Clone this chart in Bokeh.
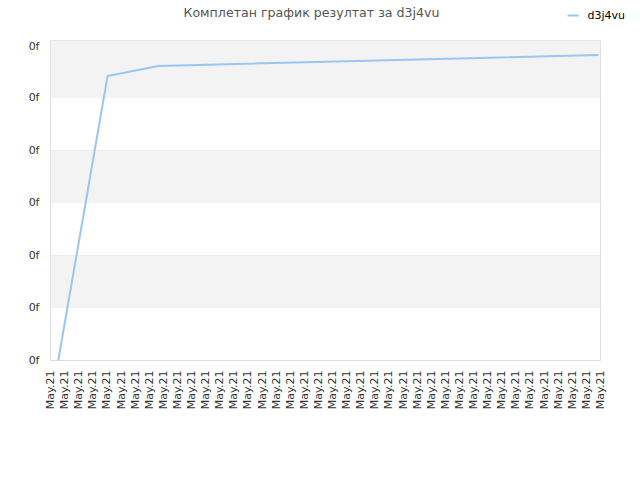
from bokeh.plotting import figure
from bokeh.embed import file_html
from bokeh.resources import INLINE
from bokeh.layouts import column
from bokeh.core.properties import value
from bokeh.models import FixedTicker, Range1d, BoxAnnotation
import math

# ---- data ----
series_name = "d3j4vu"
title_text = "Комплетан график резултат за d3j4vu"
x_tick_count = 40
x_tick_label = "May.21"
y_ticks = [0, 1, 2, 3, 4, 5, 6]
y_tick_label = "0f"
xs = [0.55, 4.05, 7.65, 38.85]
ys = [0.0, 5.42, 5.61, 5.82]

FONT = "DejaVu Sans"
LINE_COLOR = "#99c6f3"

# ---- header strip: title and legend ----
head = figure(width=640, height=39, output_backend="svg", toolbar_location=None,
              x_range=Range1d(0, 640), y_range=Range1d(39, 0),
              x_axis_type=None, y_axis_type=None, min_border=0)
if "frame_align" in head.properties():
    head.frame_align = False
head.title = None
head.outline_line_color = None
head.background_fill_color = "white"
head.border_fill_color = "white"
head.xgrid.visible = False
head.ygrid.visible = False
head.text(x=[311], y=[12], text=[title_text], text_align="center", text_baseline="middle",
          text_font=value(FONT), text_font_size="12.6px", text_color="#555555")
head.line(x=[567, 578], y=[15, 15], line_color=LINE_COLOR, line_width=2)
head.text(x=[587], y=[15], text=[series_name], text_align="left", text_baseline="middle",
          text_font=value(FONT), text_font_size="11px", text_color="#000000")

# ---- main chart ----
p = figure(width=640, height=441, output_backend="svg", toolbar_location=None,
           x_range=Range1d(0, x_tick_count - 1), y_range=Range1d(0, 6.095),
           min_border_left=50, min_border_right=40, min_border_top=1, min_border_bottom=120)
if "frame_align" in p.properties():
    p.frame_align = False
p.title = None
p.outline_line_color = "#dddddd"
p.background_fill_color = "white"
p.border_fill_color = "white"

# alternating bands
for lo, hi in [(1, 2), (3, 4), (5, 6.2)]:
    p.add_layout(BoxAnnotation(bottom=lo, top=hi, fill_color="#f3f3f3", fill_alpha=1.0,
                               line_alpha=0, level="underlay"))

p.xgrid.visible = False
p.ygrid.grid_line_color = "#e2e2e2"
p.ygrid.ticker = FixedTicker(ticks=y_ticks)

p.yaxis.ticker = FixedTicker(ticks=y_ticks)
p.yaxis.major_label_overrides = {t: y_tick_label for t in y_ticks}
p.xaxis.ticker = FixedTicker(ticks=list(range(x_tick_count)))
p.xaxis.major_label_overrides = {i: x_tick_label for i in range(x_tick_count)}
p.xaxis.major_label_orientation = math.pi / 2

for ax in (p.xaxis, p.yaxis):
    ax.axis_line_color = None
    ax.major_tick_line_color = None
    ax.minor_tick_line_color = None
    ax.major_label_text_font = FONT
    ax.major_label_text_font_size = "11px"
    ax.major_label_text_color = "#333333"
p.yaxis.major_label_standoff = 5
p.xaxis.major_label_standoff = 4

p.line(xs, ys, line_color=LINE_COLOR, line_width=2, legend_label=series_name)
p.legend.visible = False

layout = column(head, p, spacing=0)
open("out.html", "w").write(file_html(layout, INLINE))
